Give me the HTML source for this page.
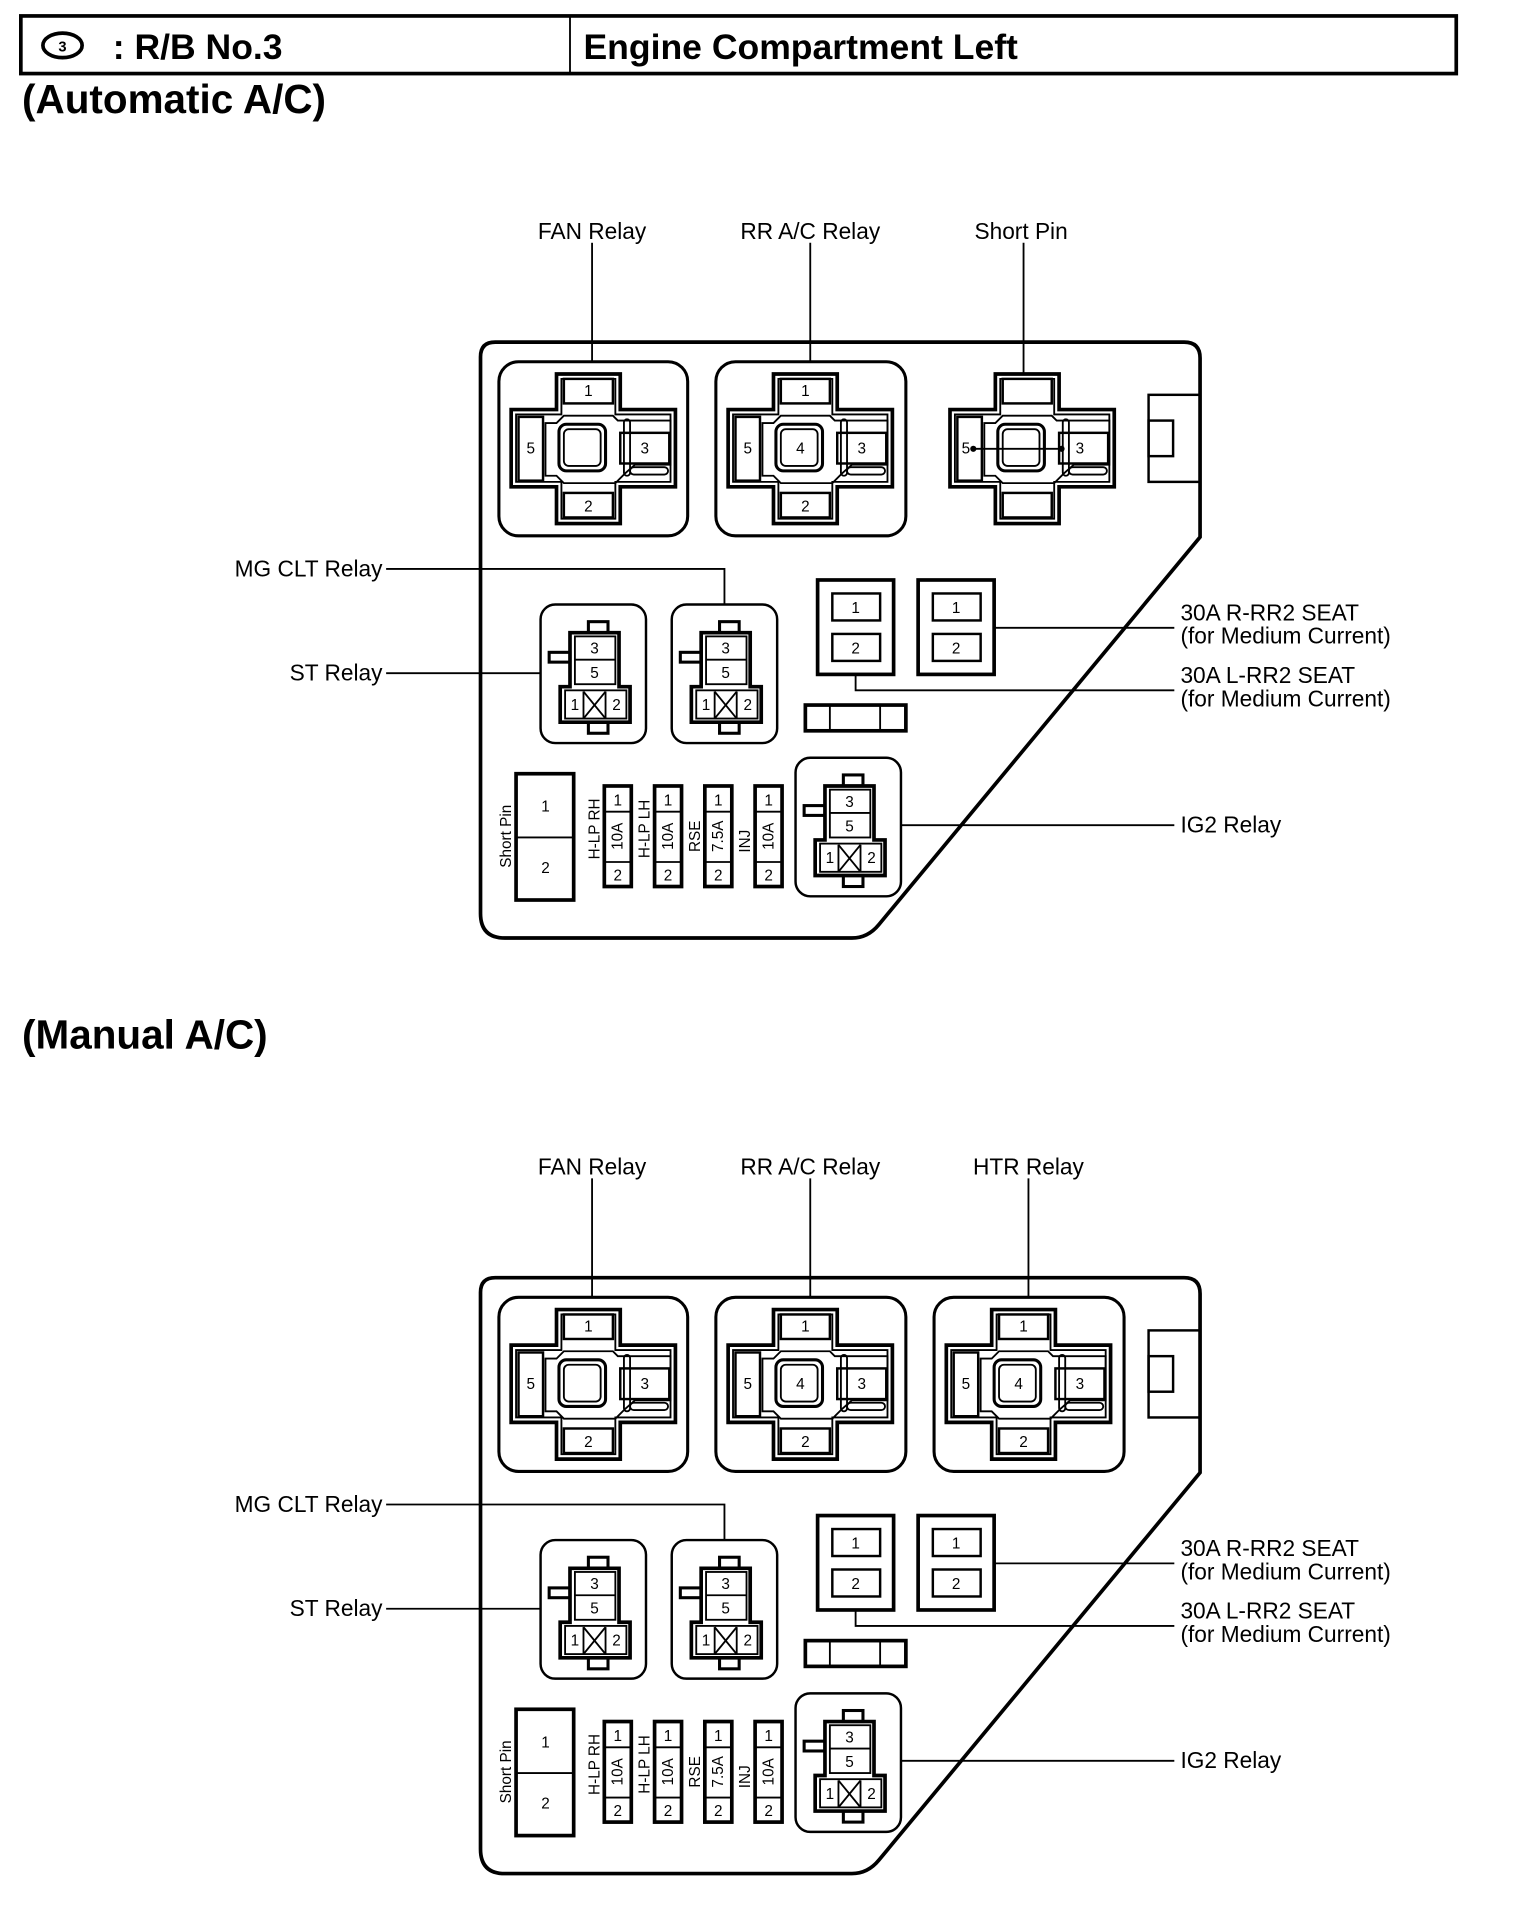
<!DOCTYPE html>
<html><head><meta charset="utf-8"><style>
html,body{margin:0;padding:0;background:#fff;}
svg{display:block;}
text{font-family:"Liberation Sans",Arial,sans-serif;fill:#000;}
.lbl{font-size:18.5px;}
.pin{font-size:12.5px;text-anchor:middle;}
</style></head><body>
<svg width="1520" height="1930" viewBox="0 0 1240 1574" preserveAspectRatio="none" xmlns="http://www.w3.org/2000/svg">
<defs>
<g id="cross" fill="none" stroke="#000">
  <polygon stroke-width="3" points="-26,-61 26,-61 26,-32 71,-32 71,31 26,31 26,61 -26,61 -26,31 -63,31 -63,-32 -26,-32"/>
  <polygon stroke-width="1.5" points="-22,-57 22,-57 22,-28 67,-28 67,27 22,27 22,57 -22,57 -22,27 -59,27 -59,-28 -22,-28"/>
  <polygon stroke-width="1.5" points="-20,-27 20,-27 24,-23 67,-23 67,13 38,13 30,20 22,28 -20,28 -26,22 -35,22 -35,-21 -26,-21"/>
  <rect x="-20" y="-57" width="40" height="20" stroke-width="2" fill="#fff"/>
  <rect x="-20" y="36" width="40" height="20" stroke-width="2" fill="#fff"/>
  <rect x="-57" y="-26" width="20" height="52" stroke-width="2" fill="#fff"/>
  <rect x="26" y="-13" width="40" height="25" stroke-width="2" fill="#fff"/>
  <rect x="-24" y="-20" width="38" height="38" rx="6" stroke-width="2.5"/>
  <rect x="-20" y="-16" width="30" height="30" rx="4" stroke-width="1.5"/>
  <rect x="29" y="-24" width="5" height="46" rx="2.5" stroke-width="1.5"/>
  <rect x="34" y="15" width="31" height="6" rx="3" stroke-width="1.5"/>
</g>
<g id="small" fill="none" stroke="#000">
  <rect x="0" y="0" width="86" height="113" rx="12" stroke-width="2"/>
  <rect x="39" y="14" width="16" height="9" stroke-width="2.5" fill="#fff"/>
  <rect x="39" y="96" width="16" height="9" stroke-width="2.5" fill="#fff"/>
  <rect x="7" y="39" width="17" height="8" stroke-width="2.5" fill="#fff"/>
  <polygon stroke-width="3" points="24,23 64,23 64,67 73,67 73,96 16,96 16,67 24,67"/>
  <rect x="28" y="26" width="33" height="39" stroke-width="1.5"/>
  <rect x="20" y="70" width="50" height="23" stroke-width="1.5"/>
  <line x1="28" y1="45" x2="61" y2="45" stroke-width="1.5"/>
  <line x1="35" y1="71" x2="35" y2="93" stroke-width="1.5"/>
  <line x1="53" y1="71" x2="53" y2="93" stroke-width="1.5"/>
  <line x1="35" y1="71" x2="53" y2="93" stroke-width="1.5"/>
  <line x1="53" y1="71" x2="35" y2="93" stroke-width="1.5"/>
  <text class="pin" x="44" y="40" stroke="none">3</text>
  <text class="pin" x="44" y="60" stroke="none">5</text>
  <text class="pin" x="28" y="86" stroke="none">1</text>
  <text class="pin" x="62" y="86" stroke="none">2</text>
</g>
<g id="fuse" fill="none" stroke="#000">
  <rect x="0" y="0" width="22" height="82" stroke-width="3"/>
  <line x1="0" y1="21" x2="22" y2="21" stroke-width="1.5"/>
  <line x1="0" y1="62" x2="22" y2="62" stroke-width="1.5"/>
  <text class="pin" x="11" y="16" stroke="none">1</text>
  <text class="pin" x="11" y="77" stroke="none">2</text>
</g>
<g id="fuse30" fill="none" stroke="#000">
  <rect x="0" y="0" width="62" height="77" stroke-width="3"/>
  <rect x="12" y="11" width="39" height="22" stroke-width="2"/>
  <rect x="12" y="44" width="39" height="22" stroke-width="2"/>
  <text class="pin" x="31" y="27" stroke="none" font-size="13">1</text>
  <text class="pin" x="31" y="60" stroke="none" font-size="13">2</text>
</g>
<g id="panel">
  <path d="M404,279 L966,279 Q979,279 979,292 L979,438 L717,754 Q708,765 695,765 L412,765 Q392,765 392,745 L392,291 Q392,279 404,279 Z" fill="none" stroke="#000" stroke-width="3"/>
  <rect x="937" y="322" width="42" height="71" fill="none" stroke="#000" stroke-width="2"/>
  <rect x="937" y="343" width="20" height="29" fill="none" stroke="#000" stroke-width="2"/>
  <rect x="407" y="295" width="154" height="142" rx="16" fill="none" stroke="#000" stroke-width="2.5"/>
  <rect x="584" y="295" width="155" height="142" rx="16" fill="none" stroke="#000" stroke-width="2.5"/>
  <use href="#cross" x="480" y="366"/>
  <use href="#cross" x="657" y="366"/>
  <text class="pin" x="480" y="323">1</text><text class="pin" x="480" y="417">2</text>
  <text class="pin" x="433" y="370">5</text><text class="pin" x="526" y="370">3</text>
  <text class="pin" x="657" y="323">1</text><text class="pin" x="657" y="417">2</text>
  <text class="pin" x="610" y="370">5</text><text class="pin" x="703" y="370">3</text>
  <text class="pin" x="653" y="370">4</text>
  <line x1="483" y1="198" x2="483" y2="295" stroke="#000" stroke-width="1.5"/>
  <line x1="661" y1="198" x2="661" y2="295" stroke="#000" stroke-width="1.5"/>
  <text class="lbl" x="483" y="195" text-anchor="middle">FAN Relay</text>
  <text class="lbl" x="661" y="195" text-anchor="middle">RR A/C Relay</text>
  <use href="#small" x="441" y="493"/>
  <use href="#small" x="548" y="493"/>
  <use href="#small" x="649" y="618"/>
  <polyline points="315,464 591,464 591,493" fill="none" stroke="#000" stroke-width="1.5"/>
  <line x1="315" y1="549" x2="441" y2="549" stroke="#000" stroke-width="1.5"/>
  <line x1="735" y1="673" x2="958" y2="673" stroke="#000" stroke-width="1.5"/>
  <text class="lbl" x="312" y="470" text-anchor="end">MG CLT Relay</text>
  <text class="lbl" x="312" y="555" text-anchor="end">ST Relay</text>
  <text class="lbl" x="963" y="679">IG2 Relay</text>
  <use href="#fuse30" x="667" y="473"/>
  <use href="#fuse30" x="749" y="473"/>
  <line x1="811" y1="512" x2="958" y2="512" stroke="#000" stroke-width="1.5"/>
  <polyline points="698,550 698,563 958,563" fill="none" stroke="#000" stroke-width="1.5"/>
  <text class="lbl" x="963" y="506">30A R-RR2 SEAT</text>
  <text class="lbl" x="963" y="525">(for Medium Current)</text>
  <text class="lbl" x="963" y="557">30A L-RR2 SEAT</text>
  <text class="lbl" x="963" y="576">(for Medium Current)</text>
  <rect x="657" y="575" width="82" height="21" fill="none" stroke="#000" stroke-width="3"/>
  <line x1="677" y1="575" x2="677" y2="596" stroke="#000" stroke-width="1.5"/>
  <line x1="718" y1="575" x2="718" y2="596" stroke="#000" stroke-width="1.5"/>
  <rect x="421" y="631" width="47" height="103" fill="none" stroke="#000" stroke-width="3"/>
  <line x1="421" y1="683" x2="468" y2="683" stroke="#000" stroke-width="1.5"/>
  <text class="pin" x="445" y="662">1</text><text class="pin" x="445" y="712">2</text>
  <text font-size="12.5" transform="translate(417,682) rotate(-90)" text-anchor="middle">Short Pin</text>
  <use href="#fuse" x="493" y="641"/>
  <use href="#fuse" x="534" y="641"/>
  <use href="#fuse" x="575" y="641"/>
  <use href="#fuse" x="616" y="641"/>
  <text font-size="12.5" transform="translate(508,682) rotate(-90)" text-anchor="middle">10A</text>
  <text font-size="12.5" transform="translate(549,682) rotate(-90)" text-anchor="middle">10A</text>
  <text font-size="12.5" transform="translate(590,682) rotate(-90)" text-anchor="middle">7.5A</text>
  <text font-size="12.5" transform="translate(631,682) rotate(-90)" text-anchor="middle">10A</text>
  <text font-size="12.5" transform="translate(489,676) rotate(-90)" text-anchor="middle">H-LP RH</text>
  <text font-size="12.5" transform="translate(530,676) rotate(-90)" text-anchor="middle">H-LP LH</text>
  <text font-size="12.5" transform="translate(571,682) rotate(-90)" text-anchor="middle">RSE</text>
  <text font-size="12.5" transform="translate(612,686) rotate(-90)" text-anchor="middle">INJ</text>
</g>
</defs>

<rect x="17" y="13" width="1171" height="47" fill="none" stroke="#000" stroke-width="3"/>
<line x1="465" y1="13" x2="465" y2="60" stroke="#000" stroke-width="1.5"/>
<ellipse cx="51" cy="37" rx="16" ry="10" fill="none" stroke="#000" stroke-width="3"/>
<text x="51" y="42" font-size="12" text-anchor="middle" font-weight="bold">3</text>
<text x="92" y="48" font-size="29" font-weight="bold">: R/B No.3</text>
<text x="476" y="48" font-size="29" font-weight="bold">Engine Compartment Left</text>
<text x="18" y="92" font-size="33" font-weight="bold">(Automatic A/C)</text>
<text x="18" y="855" font-size="33" font-weight="bold">(Manual A/C)</text>

<use href="#panel"/>
<use href="#cross" x="838" y="366"/>
<line x1="835" y1="198" x2="835" y2="305" stroke="#000" stroke-width="1.5"/>
<text class="lbl" x="833" y="195" text-anchor="middle">Short Pin</text>
<text class="pin" x="788" y="370">5</text><text class="pin" x="881" y="370">3</text>
<line x1="794" y1="366" x2="866" y2="366" stroke="#000" stroke-width="1.5"/>
<circle cx="794" cy="366" r="2.5"/><circle cx="866" cy="366" r="2.5"/>

<g transform="translate(0,763)">
<use href="#panel"/>
<rect x="762" y="295" width="155" height="142" rx="16" fill="none" stroke="#000" stroke-width="2.5"/>
<use href="#cross" x="835" y="366"/>
<line x1="839" y1="198" x2="839" y2="295" stroke="#000" stroke-width="1.5"/>
<text class="lbl" x="839" y="195" text-anchor="middle">HTR Relay</text>
<text class="pin" x="835" y="323">1</text><text class="pin" x="835" y="417">2</text>
<text class="pin" x="788" y="370">5</text><text class="pin" x="881" y="370">3</text>
<text class="pin" x="831" y="370">4</text>
</g>
</svg>
</body></html>
